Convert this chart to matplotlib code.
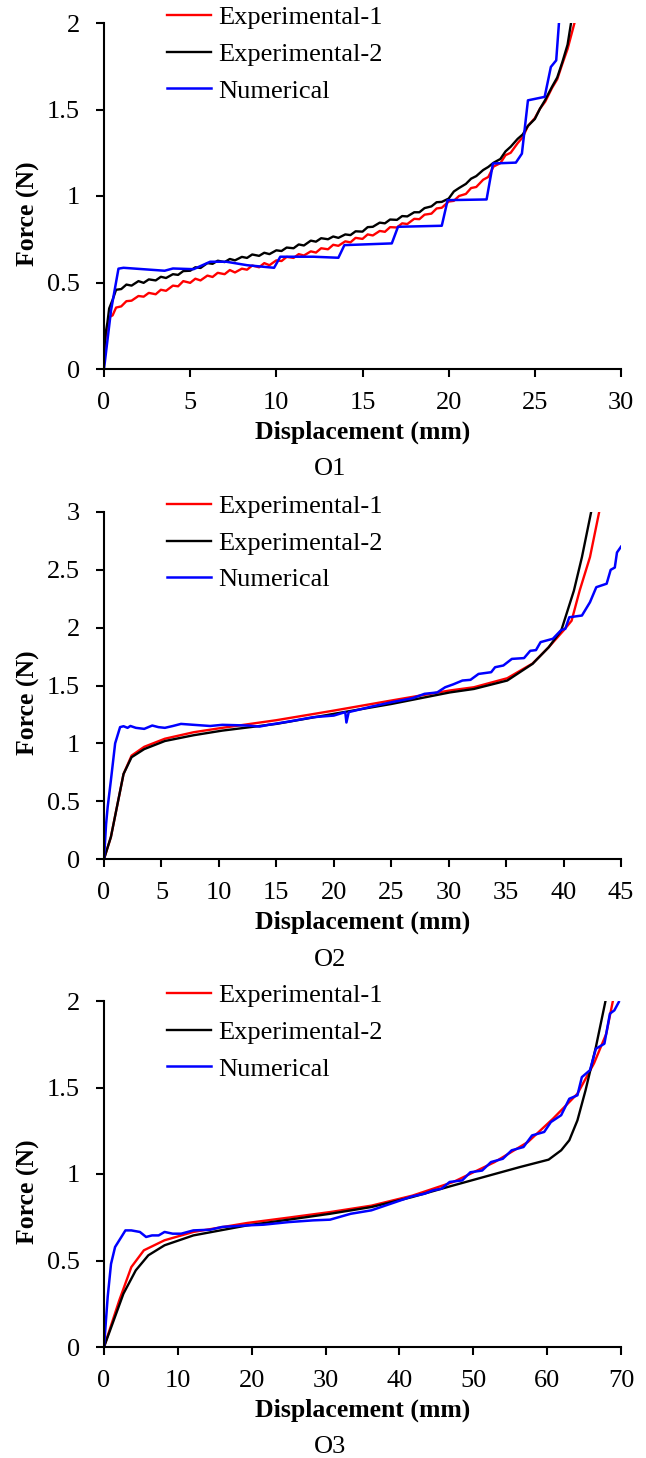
import matplotlib
matplotlib.use("Agg")
import matplotlib.pyplot as plt

plt.rcParams['font.family'] = ['Liberation Serif', 'DejaVu Serif']

# ---------------- O1 data ----------------
o1_exp1_x = [0, 0.1, 0.2, 0.3, 0.5, 0.7, 1.0, 1.3, 1.6, 2.0, 2.3, 2.6, 3.0, 3.3, 3.6,
             4.0, 4.3, 4.6, 5.0, 5.3, 5.6, 6.0, 6.3, 6.6, 7.0, 7.3, 7.6, 8.0, 8.3, 8.6,
             9.0, 9.3, 9.6, 10.0, 10.3, 10.6, 11.0, 11.3, 11.6, 12.0, 12.3, 12.6, 13.0,
             13.3, 13.6, 14.0, 14.3, 14.6, 15.0, 15.3, 15.6, 16.0, 16.3, 16.6, 17.0,
             17.3, 17.6, 18.0, 18.3, 18.6, 19.0, 19.3, 19.6, 20.0, 20.3, 20.6, 21.0,
             21.3, 21.6, 22.0, 22.3, 22.6, 23.0, 23.3, 23.6, 24.0, 24.3, 24.6, 25.0,
             25.3, 25.6, 26.0, 26.3, 26.6, 26.9, 27.3]
o1_exp1_y = [0.08, 0.19, 0.24, 0.30, 0.31, 0.355, 0.362, 0.392, 0.395, 0.422, 0.418, 0.44,
             0.432, 0.458, 0.452, 0.482, 0.478, 0.508, 0.498, 0.522, 0.512, 0.54, 0.532,
             0.556, 0.548, 0.572, 0.558, 0.58, 0.574, 0.598, 0.588, 0.612, 0.6, 0.628,
             0.624, 0.648, 0.642, 0.664, 0.656, 0.68, 0.673, 0.698, 0.692, 0.718, 0.712,
             0.738, 0.732, 0.758, 0.752, 0.778, 0.772, 0.798, 0.793, 0.82, 0.818, 0.842,
             0.838, 0.868, 0.866, 0.892, 0.898, 0.928, 0.932, 0.968, 0.972, 1.0, 1.012,
             1.046, 1.052, 1.094, 1.11, 1.17, 1.19, 1.236, 1.25, 1.305, 1.34, 1.405,
             1.45, 1.505, 1.545, 1.625, 1.675, 1.765, 1.85, 2.0]

o1_exp2_x = [0, 0.1, 0.2, 0.3, 0.5, 0.7, 1.0, 1.3, 1.6, 2.0, 2.3, 2.6, 3.0, 3.3, 3.6,
             4.0, 4.3, 4.6, 5.0, 5.3, 5.6, 6.0, 6.3, 6.6, 7.0, 7.3, 7.6, 8.0, 8.3, 8.6,
             9.0, 9.3, 9.6, 10.0, 10.3, 10.6, 11.0, 11.3, 11.6, 12.0, 12.3, 12.6, 13.0,
             13.3, 13.6, 14.0, 14.3, 14.6, 15.0, 15.3, 15.6, 16.0, 16.3, 16.6, 17.0,
             17.3, 17.6, 18.0, 18.3, 18.6, 19.0, 19.3, 19.6, 20.0, 20.3, 20.6, 21.0,
             21.3, 21.6, 22.0, 22.3, 22.6, 23.0, 23.3, 23.6, 24.0, 24.3, 24.6, 25.0,
             25.3, 25.6, 26.0, 26.3, 26.6, 26.9, 27.1]
o1_exp2_y = [0.10, 0.21, 0.27, 0.35, 0.40, 0.458, 0.462, 0.488, 0.482, 0.508, 0.498, 0.518,
             0.512, 0.533, 0.526, 0.548, 0.544, 0.566, 0.568, 0.588, 0.584, 0.612, 0.608,
             0.626, 0.618, 0.636, 0.628, 0.648, 0.642, 0.662, 0.654, 0.672, 0.664, 0.686,
             0.682, 0.702, 0.698, 0.72, 0.714, 0.742, 0.736, 0.756, 0.75, 0.766, 0.758,
             0.778, 0.774, 0.796, 0.794, 0.82, 0.822, 0.846, 0.842, 0.864, 0.862, 0.884,
             0.882, 0.906, 0.906, 0.93, 0.94, 0.964, 0.966, 0.985, 1.026, 1.046, 1.07,
             1.1, 1.115, 1.15, 1.168, 1.192, 1.214, 1.258, 1.285, 1.33, 1.356, 1.405,
             1.445, 1.505, 1.555, 1.632, 1.685, 1.775, 1.875, 2.0]

o1_num_x = [0, 0.41, 0.84, 1.13, 3.52, 4.0, 5.2, 6.16, 7.1, 8.3, 9.87, 10.23, 12.15,
            13.6, 13.95, 16.7, 17.06, 19.6, 19.94, 22.2, 22.57, 23.9, 24.25, 24.6,
            25.57, 25.93, 26.24, 26.4]
o1_num_y = [0, 0.34, 0.58, 0.585, 0.568, 0.581, 0.577, 0.62, 0.62, 0.60, 0.585, 0.649,
            0.649, 0.643, 0.716, 0.726, 0.822, 0.828, 0.976, 0.98, 1.188, 1.193, 1.245,
            1.553, 1.573, 1.746, 1.784, 2.0]

# ---------------- O2 data ----------------
o2_exp1_x = [0, 0.6, 1.7, 2.4, 3.5, 5.3, 7.8, 10.3, 15.0, 20.0, 25.0, 30.1, 32.2, 35.1,
             37.3, 38.7, 40.0, 40.7, 41.4, 42.3, 43.1]
o2_exp1_y = [0, 0.19, 0.735, 0.894, 0.97, 1.04, 1.096, 1.134, 1.2, 1.283, 1.37, 1.457,
             1.485, 1.563, 1.69, 1.83, 1.976, 2.06, 2.32, 2.61, 3.0]

o2_exp2_x = [0, 0.6, 1.7, 2.4, 3.5, 5.3, 7.8, 10.3, 15.0, 20.0, 25.0, 30.1, 32.2, 35.1,
             37.3, 38.7, 39.8, 40.9, 41.6, 42.4]
o2_exp2_y = [0, 0.19, 0.735, 0.88, 0.95, 1.02, 1.07, 1.11, 1.168, 1.255, 1.34, 1.44,
             1.47, 1.543, 1.687, 1.83, 1.976, 2.32, 2.61, 3.0]

o2_num_x = [0, 0.18, 0.32, 0.6, 0.97, 1.4, 1.7, 2.05, 2.3, 2.77, 3.5, 4.2, 4.74, 5.3,
            6.0, 6.7, 7.8, 9.24, 10.3, 12.5, 13.55, 14.3, 16.07, 18.2, 20.0, 21.0,
            21.1, 21.3, 23.3, 25.05, 26.85, 27.9, 29.0, 29.7, 30.4, 31.2, 31.9, 32.6,
            33.7, 34.04, 34.76, 35.5, 36.56, 37.1, 37.6, 38.0, 39.07, 39.8, 40.15,
            40.5, 41.6, 42.3, 42.85, 43.75, 44.1, 44.46, 44.65, 45.0]
o2_num_y = [0, 0.30, 0.45, 0.68, 1.0, 1.14, 1.148, 1.134, 1.15, 1.134, 1.125, 1.154,
            1.14, 1.134, 1.15, 1.168, 1.16, 1.15, 1.16, 1.154, 1.145, 1.16, 1.188, 1.226,
            1.24, 1.27, 1.18, 1.27, 1.318, 1.356, 1.39, 1.428, 1.44, 1.485, 1.51, 1.543,
            1.549, 1.6, 1.615, 1.658, 1.673, 1.73, 1.737, 1.8, 1.806, 1.875, 1.904,
            1.98, 1.99, 2.09, 2.105, 2.22, 2.35, 2.38, 2.5, 2.52, 2.65, 2.7]

# ---------------- O3 data ----------------
o3_exp1_x = [0, 2.07, 3.7, 5.4, 8.2, 12.1, 19.4, 25.0, 30.6, 36.2, 41.75, 47.3, 52.9,
             57.4, 60.8, 64.1, 66.35, 68.0, 68.9]
o3_exp1_y = [0, 0.27, 0.462, 0.559, 0.617, 0.665, 0.717, 0.748, 0.78, 0.817, 0.875,
             0.954, 1.069, 1.185, 1.32, 1.464, 1.64, 1.81, 2.0]

o3_exp2_x = [0, 2.63, 4.3, 6.0, 8.2, 12.1, 19.4, 25.0, 30.6, 36.2, 41.75, 47.3, 52.9,
             56.3, 60.2, 61.9, 63.0, 64.1, 65.2, 66.6, 67.9]
o3_exp2_y = [0, 0.308, 0.443, 0.53, 0.588, 0.645, 0.703, 0.736, 0.77, 0.809, 0.867,
             0.934, 1.0, 1.04, 1.083, 1.137, 1.195, 1.31, 1.484, 1.734, 2.0]

o3_num_x = [0, 0.5, 0.95, 1.5, 2.35, 2.9, 3.7, 4.86, 5.7, 6.5, 7.4, 8.2, 9.3, 10.45,
            12.1, 14.4, 16.0, 19.4, 21.6, 25.0, 28.3, 30.6, 33.4, 36.2, 39.5, 41.75,
            43.4, 44.5, 45.7, 46.8, 48.5, 49.6, 51.2, 52.4, 54.0, 55.2, 56.8, 57.96,
            59.6, 60.5, 61.9, 63.0, 64.1, 64.7, 65.8, 66.6, 67.75, 68.5, 69.1, 69.7]
o3_num_y = [0, 0.29, 0.48, 0.578, 0.636, 0.674, 0.674, 0.665, 0.636, 0.645, 0.645,
            0.665, 0.655, 0.655, 0.674, 0.678, 0.694, 0.703, 0.707, 0.722, 0.732, 0.736,
            0.77, 0.79, 0.838, 0.871, 0.886, 0.905, 0.915, 0.954, 0.963, 1.01, 1.02,
            1.069, 1.088, 1.137, 1.156, 1.223, 1.243, 1.3, 1.34, 1.435, 1.455, 1.56,
            1.6, 1.724, 1.753, 1.927, 1.946, 1.994]

panels = [
    ("O1", (o1_exp1_x, o1_exp1_y), (o1_exp2_x, o1_exp2_y), (o1_num_x, o1_num_y),
     [0, 5, 10, 15, 20, 25, 30], [0, 0.5, 1, 1.5, 2]),
    ("O2", (o2_exp1_x, o2_exp1_y), (o2_exp2_x, o2_exp2_y), (o2_num_x, o2_num_y),
     [0, 5, 10, 15, 20, 25, 30, 35, 40, 45], [0, 0.5, 1, 1.5, 2, 2.5, 3]),
    ("O3", (o3_exp1_x, o3_exp1_y), (o3_exp2_x, o3_exp2_y), (o3_num_x, o3_num_y),
     [0, 10, 20, 30, 40, 50, 60, 70], [0, 0.5, 1, 1.5, 2]),
]

W, H = 646, 1458
fig = plt.figure(figsize=(W / 100, H / 100), dpi=100)

# axes pixel boxes: (left, top, right, bottom)
boxes = [(104, 23, 621, 369), (104, 512, 621, 859), (104, 1001, 621, 1347)]

for (name, e1, e2, num, xt, yt), (l, t, r, b) in zip(panels, boxes):
    ax = fig.add_axes([l / W, 1 - b / H, (r - l) / W, (b - t) / H])
    ax.plot(e1[0], e1[1], color='#ff0000', lw=1.7, label='Experimental-1')
    ax.plot(e2[0], e2[1], color='black', lw=1.7, label='Experimental-2')
    ax.plot(num[0], num[1], color='#0000ff', lw=1.8, label='Numerical')

    ax.set_xlim(xt[0], xt[-1])
    ax.set_ylim(yt[0], yt[-1])
    ax.set_xticks(xt)
    ax.set_yticks(yt)
    ax.set_xticklabels([str(v) for v in xt])
    ax.set_yticklabels([('%g' % v) for v in yt])
    for s in ['top', 'right']:
        ax.spines[s].set_visible(False)
    for s in ['left', 'bottom']:
        ax.spines[s].set_linewidth(1.5)
    ax.tick_params(direction='out', length=5.5, width=1.5, labelsize=19)
    ax.tick_params(axis='x', pad=11)
    ax.tick_params(axis='y', pad=12)

    ax.set_xlabel('Displacement (mm)', fontsize=18.5, fontweight='bold', va='center')
    ax.xaxis.set_label_coords(0.5, -0.182)
    ax.set_ylabel('Force (N)', fontsize=18.5, fontweight='bold', va='center')
    ax.yaxis.set_label_coords(-0.146, 0.45)
    ax.text(0.437, -0.29, name, transform=ax.transAxes, fontsize=19,
            ha='center', va='center')

    ax.legend(loc='upper left', bbox_to_anchor=(0.122, 1.05), frameon=False,
              fontsize=19, borderpad=0, borderaxespad=0, handlelength=1.65,
              handletextpad=0.27, labelspacing=0.5)

fig.savefig('out.png', dpi=100)
